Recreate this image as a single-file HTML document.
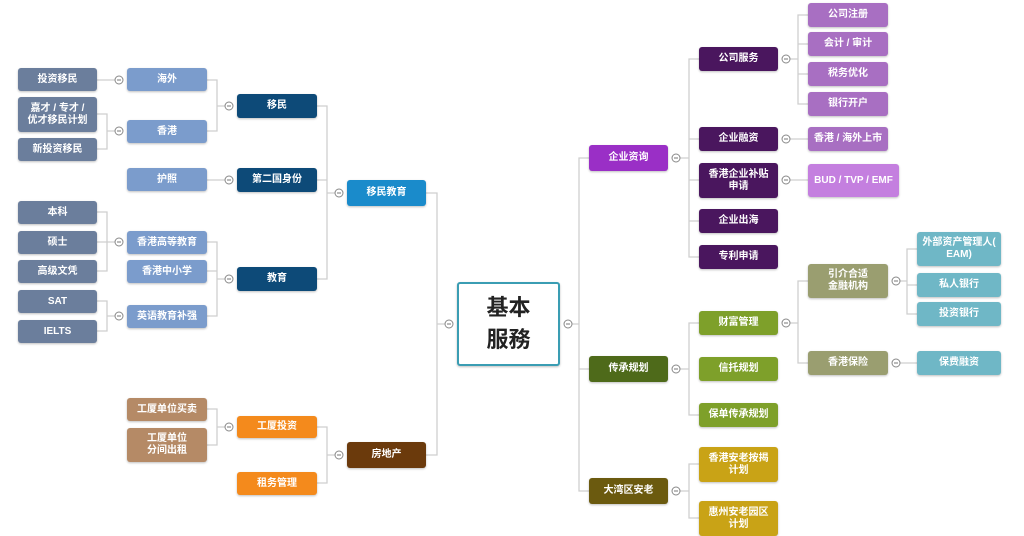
<!DOCTYPE html>
<html><head><meta charset="utf-8">
<style>
html,body{margin:0;padding:0;}
body{width:1024px;height:536px;position:relative;background:#fff;overflow:hidden;font-family:"Liberation Sans","Noto Sans CJK SC",sans-serif;}
.n{position:absolute;box-sizing:border-box;display:flex;align-items:center;justify-content:center;text-align:center;color:#fff;font-size:10px;font-weight:bold;line-height:12px;border-radius:3px;box-shadow:0 1px 2px rgba(0,0,0,.25);}
.g{background:#6b7e9c;}
.lb{background:#7b9ccc;}
.db{background:#0d4a78;}
.or{background:#f48a1c;}
.tan{background:#b58a66;}
.pd{background:#4a165e;}
.pl{background:#a86fc2;}
.gr{background:#7ea02a;}
.ye{background:#c9a316;}
.ol{background:#9a9e70;}
.te{background:#6fb7c6;}
svg{position:absolute;left:0;top:0;}
</style></head><body>
<svg width="1024" height="536">
<g fill="none" stroke="#cfcfcf" stroke-width="1.3">
<!-- left side -->
<path d="M426 193H437V455H426M437 324H445"/>
<path d="M317 106H327V279H317M317 180H327M327 193H335"/>
<path d="M207 80H217V131H207M217 106H225"/>
<path d="M207 180H225"/>
<path d="M207 242H217V316H207M207 271H217M217 279H225"/>
<path d="M97 80H115"/>
<path d="M97 114H107V149H97M107 131H115"/>
<path d="M97 212H107V271H97M97 242H115"/>
<path d="M97 301H107V331H97M107 316H115"/>
<path d="M317 427H327V483H317M327 455H335"/>
<path d="M207 409H217V445H207M217 427H225"/>
<!-- right side -->
<path d="M572 324H579M589 158H579V491H589M579 369H589"/>
<path d="M672 158H689M699 59H689V257H699M689 139H699M689 180H699M689 221H699"/>
<path d="M782 59H798M808 15H798V104H808M798 44H808M798 74H808"/>
<path d="M782 139H808"/>
<path d="M782 180H808"/>
<path d="M672 369H689M699 323H689V415H699"/>
<path d="M782 323H798M808 281H798V363H808"/>
<path d="M892 281H907M917 249H907V314H917M907 285H917"/>
<path d="M892 363H917"/>
<path d="M672 491H689M699 464H689V518H699"/>
</g>
<g fill="#fff" stroke="#888" stroke-width="1">
<circle cx="449" cy="324" r="4"/><circle cx="339" cy="193" r="4"/><circle cx="229" cy="106" r="4"/><circle cx="229" cy="180" r="4"/><circle cx="229" cy="279" r="4"/>
<circle cx="119" cy="80" r="4"/><circle cx="119" cy="131" r="4"/><circle cx="119" cy="242" r="4"/><circle cx="119" cy="316" r="4"/>
<circle cx="339" cy="455" r="4"/><circle cx="229" cy="427" r="4"/>
<circle cx="568" cy="324" r="4"/><circle cx="676" cy="158" r="4"/><circle cx="786" cy="59" r="4"/><circle cx="786" cy="139" r="4"/><circle cx="786" cy="180" r="4"/>
<circle cx="676" cy="369" r="4"/><circle cx="786" cy="323" r="4"/><circle cx="896" cy="281" r="4"/><circle cx="896" cy="363" r="4"/><circle cx="676" cy="491" r="4"/>
</g>
<g stroke="#777" stroke-width="1">
<path d="M447 324h4M337 193h4M227 106h4M227 180h4M227 279h4M117 80h4M117 131h4M117 242h4M117 316h4M337 455h4M227 427h4M566 324h4M674 158h4M784 59h4M784 139h4M784 180h4M674 369h4M784 323h4M894 281h4M894 363h4M674 491h4"/>
</g>
</svg>

<!-- left -->
<div class="n g" style="left:18px;top:68px;width:79px;height:23px">投资移民</div>
<div class="n g" style="left:18px;top:97px;width:79px;height:35px">嘉才 / 专才 /<br>优才移民计划</div>
<div class="n g" style="left:18px;top:138px;width:79px;height:23px">新投资移民</div>
<div class="n g" style="left:18px;top:201px;width:79px;height:23px">本科</div>
<div class="n g" style="left:18px;top:231px;width:79px;height:23px">硕士</div>
<div class="n g" style="left:18px;top:260px;width:79px;height:23px">高级文凭</div>
<div class="n g" style="left:18px;top:290px;width:79px;height:23px">SAT</div>
<div class="n g" style="left:18px;top:320px;width:79px;height:23px">IELTS</div>

<div class="n lb" style="left:127px;top:68px;width:80px;height:23px">海外</div>
<div class="n lb" style="left:127px;top:120px;width:80px;height:23px">香港</div>
<div class="n lb" style="left:127px;top:168px;width:80px;height:23px">护照</div>
<div class="n lb" style="left:127px;top:231px;width:80px;height:23px">香港高等教育</div>
<div class="n lb" style="left:127px;top:260px;width:80px;height:23px">香港中小学</div>
<div class="n lb" style="left:127px;top:305px;width:80px;height:23px">英语教育补强</div>

<div class="n db" style="left:237px;top:94px;width:80px;height:24px">移民</div>
<div class="n db" style="left:237px;top:168px;width:80px;height:24px">第二国身份</div>
<div class="n db" style="left:237px;top:267px;width:80px;height:24px">教育</div>

<div class="n" style="left:347px;top:180px;width:79px;height:26px;background:#1a8bcb">移民教育</div>
<div class="n" style="left:347px;top:442px;width:79px;height:26px;background:#6b3a0c">房地产</div>

<div class="n or" style="left:237px;top:416px;width:80px;height:22px">工厦投资</div>
<div class="n or" style="left:237px;top:472px;width:80px;height:23px">租务管理</div>
<div class="n tan" style="left:127px;top:398px;width:80px;height:23px">工厦单位买卖</div>
<div class="n tan" style="left:127px;top:428px;width:80px;height:34px">工厦单位<br>分间出租</div>

<!-- center -->
<div class="n" style="left:457px;top:282px;width:103px;height:84px;background:#fff;border:2px solid #3a9db3;color:#222;font-size:22px;line-height:32px;">基本<br>服務</div>

<!-- right -->
<div class="n" style="left:589px;top:145px;width:79px;height:26px;background:#9a2fc6">企业资询</div>
<div class="n" style="left:589px;top:356px;width:79px;height:26px;background:#4e6a1a">传承规划</div>
<div class="n" style="left:589px;top:478px;width:79px;height:26px;background:#6b5a0f">大湾区安老</div>

<div class="n pd" style="left:699px;top:47px;width:79px;height:24px">公司服务</div>
<div class="n pd" style="left:699px;top:127px;width:79px;height:24px">企业融资</div>
<div class="n pd" style="left:699px;top:163px;width:79px;height:35px">香港企业补贴<br>申请</div>
<div class="n pd" style="left:699px;top:209px;width:79px;height:24px">企业出海</div>
<div class="n pd" style="left:699px;top:245px;width:79px;height:24px">专利申请</div>

<div class="n pl" style="left:808px;top:3px;width:80px;height:24px">公司注册</div>
<div class="n pl" style="left:808px;top:32px;width:80px;height:24px">会计 / 审计</div>
<div class="n pl" style="left:808px;top:62px;width:80px;height:24px">税务优化</div>
<div class="n pl" style="left:808px;top:92px;width:80px;height:24px">银行开户</div>
<div class="n pl" style="left:808px;top:127px;width:80px;height:24px">香港 / 海外上市</div>
<div class="n" style="left:808px;top:164px;width:91px;height:33px;background:#c47fdf">BUD / TVP / EMF</div>

<div class="n gr" style="left:699px;top:311px;width:79px;height:24px">财富管理</div>
<div class="n gr" style="left:699px;top:357px;width:79px;height:24px">信托规划</div>
<div class="n gr" style="left:699px;top:403px;width:79px;height:24px">保单传承规划</div>
<div class="n ye" style="left:699px;top:447px;width:79px;height:35px">香港安老按揭<br>计划</div>
<div class="n ye" style="left:699px;top:501px;width:79px;height:35px">惠州安老园区<br>计划</div>

<div class="n ol" style="left:808px;top:264px;width:80px;height:34px">引介合适<br>金融机构</div>
<div class="n ol" style="left:808px;top:351px;width:80px;height:24px">香港保险</div>

<div class="n te" style="left:917px;top:232px;width:84px;height:34px">外部资产管理人(<br>EAM)</div>
<div class="n te" style="left:917px;top:273px;width:84px;height:24px">私人银行</div>
<div class="n te" style="left:917px;top:302px;width:84px;height:24px">投资银行</div>
<div class="n te" style="left:917px;top:351px;width:84px;height:24px">保费融资</div>
</body></html>
